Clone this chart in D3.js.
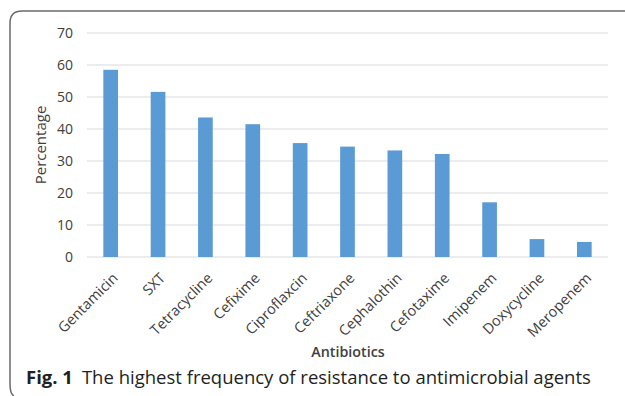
<!DOCTYPE html>
<html>
<head>
<meta charset="utf-8">
<script src="https://cdn.jsdelivr.net/npm/d3@7"></script>
<style>
  html, body { margin: 0; padding: 0; background: #fff; }
  svg { display: block; }
</style>
</head>
<body>
<svg id="chart" width="625" height="396"></svg>
<script>
const categories = ["Gentamicin", "SXT", "Tetracycline", "Cefixime", "Ciproflaxcin", "Ceftriaxone", "Cephalothin", "Cefotaxime", "Imipenem", "Doxycycline", "Meropenem"];
const values = [58.5, 51.6, 43.6, 41.5, 35.6, 34.5, 33.3, 32.2, 17.1, 5.6, 4.7];
const yTicks = [0, 10, 20, 30, 40, 50, 60, 70];
const xTitle = "Antibiotics";
const yTitle = "Percentage";
const captionBold = "Fig. 1";
const captionText = "The highest frequency of resistance to antimicrobial agents";

const svg = d3.select("#chart");
const plotLeft = 87, plotRight = 608, plotTop = 33, plotBottom = 257;

// frame (top and left border with rounded corners)
svg.append("path")
  .attr("d", `M625,11 L22,11 Q10,11 10,23 L10,384 Q10,394 14,396`)
  .attr("fill", "none").attr("stroke", "#6b6b6b").attr("stroke-width", 1.5);

const x = d3.scaleBand().domain(categories).range([plotLeft, plotRight]).paddingInner(0.69).paddingOuter(0.345);
const y = d3.scaleLinear().domain([0, 70]).range([plotBottom, plotTop]);

// gridlines
svg.append("g").selectAll("line").data(yTicks).join("line")
  .attr("x1", plotLeft).attr("x2", plotRight)
  .attr("y1", d => y(d)).attr("y2", d => y(d))
  .attr("stroke", "#d9d9d9").attr("stroke-width", 1);

// y axis labels
const yAxis = d3.axisLeft(y).tickValues(yTicks).tickSize(0).tickPadding(0);
const gy = svg.append("g").attr("transform", `translate(${73},0)`).call(yAxis);
gy.select(".domain").remove();
gy.selectAll("text").attr("font-family", "'Open Sans', sans-serif").attr("font-size", 14).attr("fill", "#404040");

// bars
svg.append("g").selectAll("rect").data(values).join("rect")
  .attr("x", (d, i) => x(categories[i]))
  .attr("width", x.bandwidth())
  .attr("y", d => y(d))
  .attr("height", d => y(0) - y(d))
  .attr("fill", "#5b9bd5");

// x labels
const xAxis = d3.axisBottom(x).tickSize(0).tickPadding(0);
const gx = svg.append("g").attr("transform", `translate(0,${plotBottom})`).call(xAxis);
gx.select(".domain").remove();
gx.selectAll("text")
  .attr("font-family", "'Open Sans', sans-serif").attr("font-size", 14.5).attr("fill", "#404040")
  .attr("text-anchor", "end").attr("dy", null).attr("y", 0)
  .attr("transform", "translate(8,22) rotate(-45)");

// axis titles
svg.append("text").attr("x", 348).attr("y", 357).attr("text-anchor", "middle")
  .attr("font-family", "'Open Sans', sans-serif").attr("font-size", 14.3).attr("font-weight", 600).attr("fill", "#404040")
  .text(xTitle);
svg.append("text").attr("transform", "translate(46,145) rotate(-90)").attr("text-anchor", "middle")
  .attr("font-family", "'Open Sans', sans-serif").attr("font-size", 15).attr("fill", "#404040")
  .text(yTitle);

// caption
const cap = svg.append("text").attr("x", 26).attr("y", 384)
  .attr("font-family", "'Open Sans', sans-serif").attr("font-size", 18.5).attr("fill", "#231f20");
cap.append("tspan").attr("font-weight", 700).text(captionBold);
cap.append("tspan").attr("dx", 9).text(captionText);
</script>
</body>
</html>
